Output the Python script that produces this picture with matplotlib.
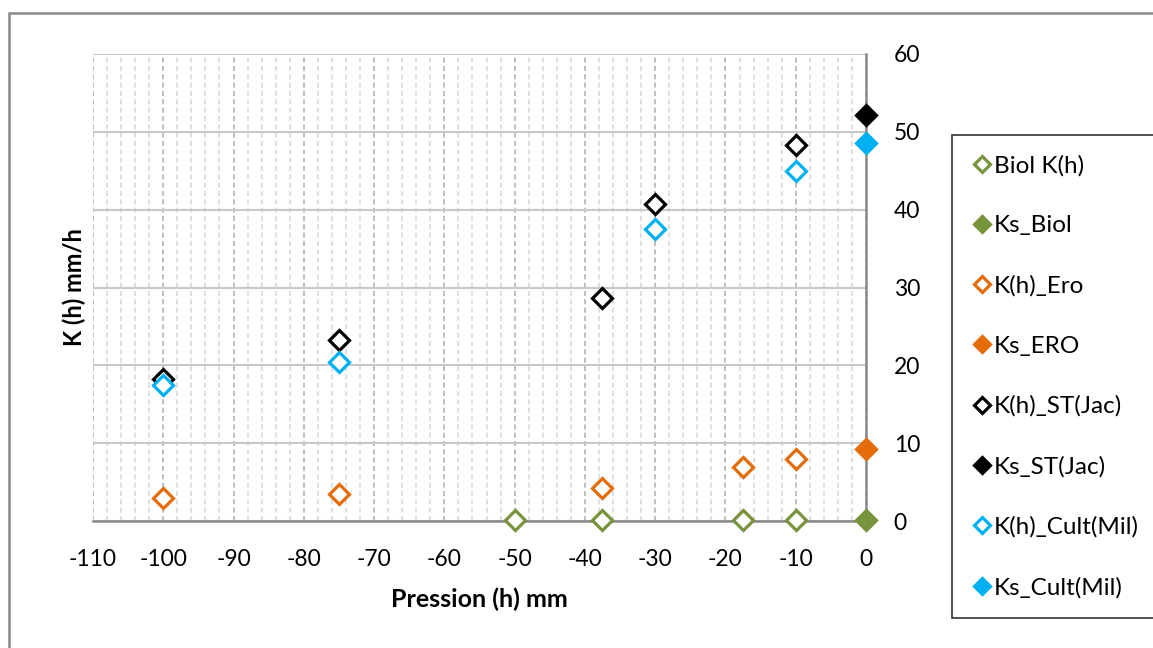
import matplotlib
matplotlib.use("Agg")
import matplotlib.pyplot as plt
from matplotlib.patches import Rectangle
from matplotlib.ticker import MultipleLocator

plt.rcParams['font.family'] = ['Lato', 'DejaVu Sans']
plt.rcParams['axes.unicode_minus'] = False

# pressure (h) in mm for each series
x_biol = [-50, -37.5, -17.5, -10]
y_biol = [0.15, 0.15, 0.15, 0.15]
x_ks_biol = [0]
y_ks_biol = [0.15]

x_ero = [-100, -75, -37.5, -17.5, -10]
y_ero = [3.0, 3.5, 4.2, 6.9, 8.0]
x_ks_ero = [0]
y_ks_ero = [9.3]

x_st = [-100, -75, -37.5, -30, -10]
y_st = [18.3, 23.3, 28.7, 40.7, 48.3]
x_ks_st = [0]
y_ks_st = [52.2]

x_cult = [-100, -75, -30, -10]
y_cult = [17.5, 20.4, 37.5, 45.0]
x_ks_cult = [0]
y_ks_cult = [48.6]

GREEN = "#77933C"
ORANGE = "#E46C0A"
BLACK = "#000000"
CYAN = "#00B0F0"

fig = plt.figure(figsize=(11.53, 6.48), dpi=100)
ax = fig.add_axes([93 / 1153, 1 - 521 / 648, (866 - 93) / 1153, (521 - 54) / 648])

ms = 10.5
mew = 2.3
handles = []
series = [
    (x_biol, y_biol, GREEN, False, "Biol K(h)"),
    (x_ks_biol, y_ks_biol, GREEN, True, "Ks_Biol"),
    (x_ero, y_ero, ORANGE, False, "K(h)_Ero"),
    (x_ks_ero, y_ks_ero, ORANGE, True, "Ks_ERO"),
    (x_st, y_st, BLACK, False, "K(h)_ST(Jac)"),
    (x_ks_st, y_ks_st, BLACK, True, "Ks_ST(Jac)"),
    (x_cult, y_cult, CYAN, False, "K(h)_Cult(Mil)"),
    (x_ks_cult, y_ks_cult, CYAN, True, "Ks_Cult(Mil)"),
]
for xs, ys, col, filled, lab in series:
    h, = ax.plot(xs, ys, linestyle="none", marker="D", markersize=ms,
                 markeredgewidth=mew, markeredgecolor=col,
                 markerfacecolor=col if filled else "white",
                 label=lab, clip_on=False, zorder=5)
    handles.append(h)

ax.set_xlim(-110, 0)
ax.set_ylim(0, 60)
ax.xaxis.set_major_locator(MultipleLocator(10))
ax.xaxis.set_minor_locator(MultipleLocator(2))
ax.yaxis.set_major_locator(MultipleLocator(10))

ax.grid(which="major", axis="x", color="#B4B4B4", linestyle=(0, (3, 2)), linewidth=1.2)
ax.grid(which="minor", axis="x", color="#D9D9D9", linestyle=(0, (3, 2)), linewidth=1.2)
ax.grid(which="major", axis="y", color="#C8C8C8", linestyle="-", linewidth=1.5)
ax.set_axisbelow(True)

for side in ["left", "top"]:
    ax.spines[side].set_visible(False)
for side in ["bottom", "right"]:
    ax.spines[side].set_color("#898989")
    ax.spines[side].set_linewidth(1.8)

ax.yaxis.tick_right()
ax.tick_params(axis="both", which="both", length=0, labelsize=16.5)
ax.tick_params(axis="y", pad=20)
ax.tick_params(axis="x", pad=20)

ax.set_xlabel("Pression (h) mm", fontsize=18, fontweight="bold", labelpad=13)
ax.set_ylabel("K (h) mm/h", fontsize=17, fontweight="bold", labelpad=5)
ax.yaxis.set_label_position("left")

leg = fig.legend(handles=handles, loc="upper left",
                 bbox_to_anchor=(952 / 1153, 1 - 135 / 648),
                 frameon=True, fancybox=False, edgecolor="black",
                 fontsize=17.5, borderpad=0.82, labelspacing=1.6,
                 handlelength=0.8, handletextpad=0.1, borderaxespad=0,
                 markerscale=0.75)
leg.get_frame().set_linewidth(1.2)

# outer chart border
fig.patches.append(Rectangle((9 / 1153, -0.05), 1.2, 1 - 13 / 648 + 0.05,
                             transform=fig.transFigure, fill=False,
                             edgecolor="#898989", linewidth=1.8))

fig.savefig("out.png", dpi=100)
